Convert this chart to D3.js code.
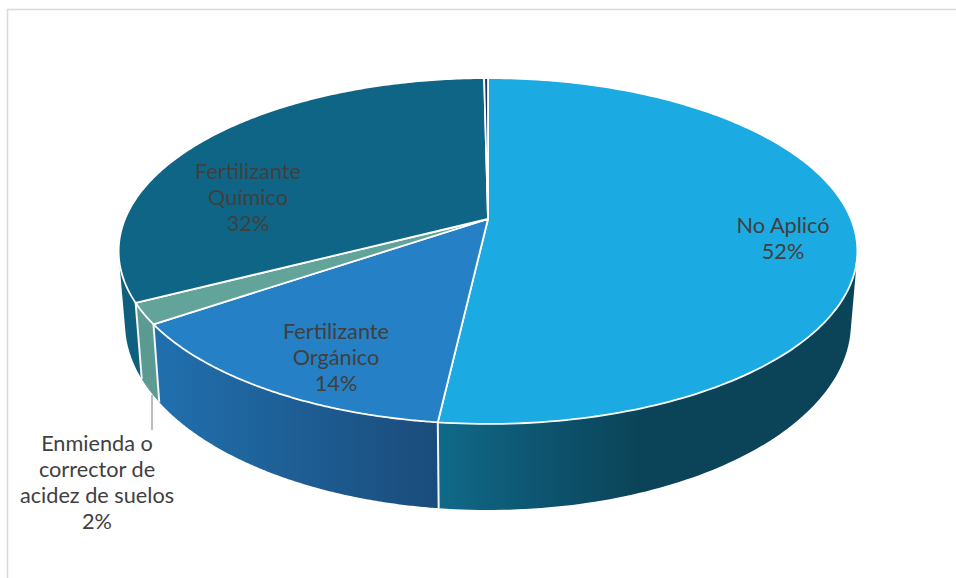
<!DOCTYPE html>
<html lang="es">
<head>
<meta charset="utf-8">
<script src="https://cdn.jsdelivr.net/npm/d3@7"></script>
<style>
  html, body { margin: 0; padding: 0; background: #fff; }
  svg { display: block; }
  text { font-family: "Lato", "Open Sans", sans-serif; fill: #404040; }
</style>
</head>
<body>
<div id="chart"></div>
<script>
// Uso de enmiendas y fertilizantes: porcentaje de respuestas por categoría.
const categories = ["No Aplicó", "Fertilizante Orgánico", "Enmienda o corrector de acidez de suelos", "Fertilizante Químico", "Otros"];
const values = [51.8, 13.65, 1.95, 32.4, 0.2];
const labelLines = [
  ["No Aplicó"],
  ["Fertilizante", "Orgánico"],
  ["Enmienda o", "corrector de", "acidez de suelos"],
  ["Fertilizante", "Químico"],
  null
];
const topColors = ["#1caae2", "#2580c5", "#62a39a", "#0f6586", "#14375f"];
const sideStops = [
  ["#106a89", "#0d5570", "#0b4459"],
  ["#2070ae", "#1e5e95", "#1a4c7b"],
  ["#5a9a90", "#5a9a90", "#5a9a90"],
  ["#0e607f", "#0d5a78", "#0c536e"],
  ["#14375f", "#14375f", "#14375f"]
];

const width = 956, height = 578;

// Perspectiva del disco: círculo unidad proyectado sobre la tapa y sobre la base.
const tilt = 0.185;
const topRim = { cx: 488, cy: 219, rx: 363, ry: 167 };
const baseRim = { cx: 488, cy: 288.4, rx: 356.7, ry: 180.6 };
const project = (rim, angle) => {
  const u = Math.sin(angle), v = -Math.cos(angle), w = 1 - tilt * v;
  return [rim.cx + rim.rx * u / w, rim.cy + rim.ry * v / w];
};

// Colocación de las etiquetas, en píxeles de la página.
const labelAnchors = [[783, 233], [336, 339], [97, 451], [248, 179]];
const labelFontSize = 21.7, labelLeading = 26;

const svg = d3.select("#chart").append("svg").attr("width", width).attr("height", height);
const defs = svg.append("defs");

// Marco del área del gráfico
svg.append("path")
  .attr("d", `M7.5,${height} V9.5 H${width}`)
  .attr("fill", "none").attr("stroke", "#d9d9d9").attr("stroke-width", 1.5);

const arcs = d3.pie().sort(null).value(d => d)(values);
const stepsPerSlice = 180;
const angleSamples = a => d3.range(0, stepsPerSlice + 1)
  .map(i => a.startAngle + (a.endAngle - a.startAngle) * i / stepsPerSlice);
const rimLine = d3.line();

// Pared lateral: franjas entre tapa y base, todas con la misma orientación,
// de modo que su unión llegue hasta la silueta del cilindro.
const sides = svg.append("g");
arcs.forEach((a, i) => {
  const angles = angleSamples(a);
  const upper = angles.map(t => project(topRim, t));
  const lower = angles.map(t => project(baseRim, t));
  const strips = d3.pairs(d3.range(angles.length)).map(([p, q]) => {
    const quad = [upper[p], upper[q], lower[q], lower[p]];
    if (d3.polygonArea(quad) < 0) quad.reverse();
    return rimLine(quad) + "Z";
  }).join("");
  const grad = defs.append("linearGradient")
    .attr("id", `side-${i}`).attr("gradientUnits", "userSpaceOnUse");
  // La pared de mayor tamaño se oscurece desde la costura hacia la derecha.
  const front = i === 0
    ? [d3.min(upper, p => p[0]), 640]
    : d3.extent(upper.concat(lower), p => p[0]);
  grad.attr("x1", front[0]).attr("x2", front[1]).attr("y1", 0).attr("y2", 0);
  sideStops[i].forEach((c, k) => grad.append("stop").attr("offset", k / 2).attr("stop-color", c));
  sides.append("path").attr("d", strips).attr("fill", `url(#side-${i})`);
});

// Costuras blancas entre paredes visibles
const seams = svg.append("g");
arcs.slice(0, 3).forEach(a => {
  seams.append("path")
    .attr("d", rimLine([project(topRim, a.endAngle), project(baseRim, a.endAngle)]))
    .attr("stroke", "#f2f6f8").attr("stroke-width", 2);
});

// Tapa: sectores desde el centro proyectado hasta el borde
const caps = svg.append("g");
arcs.forEach((a, i) => {
  const pts = angleSamples(a).map(t => project(topRim, t));
  caps.append("path")
    .attr("d", rimLine([[topRim.cx, topRim.cy], ...pts]) + "Z")
    .attr("fill", topColors[i])
    .attr("stroke", "#fff").attr("stroke-width", 1.8).attr("stroke-linejoin", "round");
});

// Línea guía hacia la etiqueta de la enmienda
svg.append("line")
  .attr("x1", 152).attr("x2", 152).attr("y1", 395).attr("y2", 430)
  .attr("stroke", "#a6a6a6").attr("stroke-width", 1.5);

// Etiquetas: nombre en una o varias líneas y porcentaje redondeado
const labels = svg.append("g").attr("text-anchor", "middle").attr("font-size", labelFontSize);
arcs.forEach((a, i) => {
  if (!labelLines[i]) return;
  const lines = [...labelLines[i], `${Math.round(values[i])}%`];
  const [x, y] = labelAnchors[i];
  lines.forEach((line, k) => {
    labels.append("text").attr("x", x).attr("y", y + k * labelLeading).text(line);
  });
});
</script>
</body>
</html>
